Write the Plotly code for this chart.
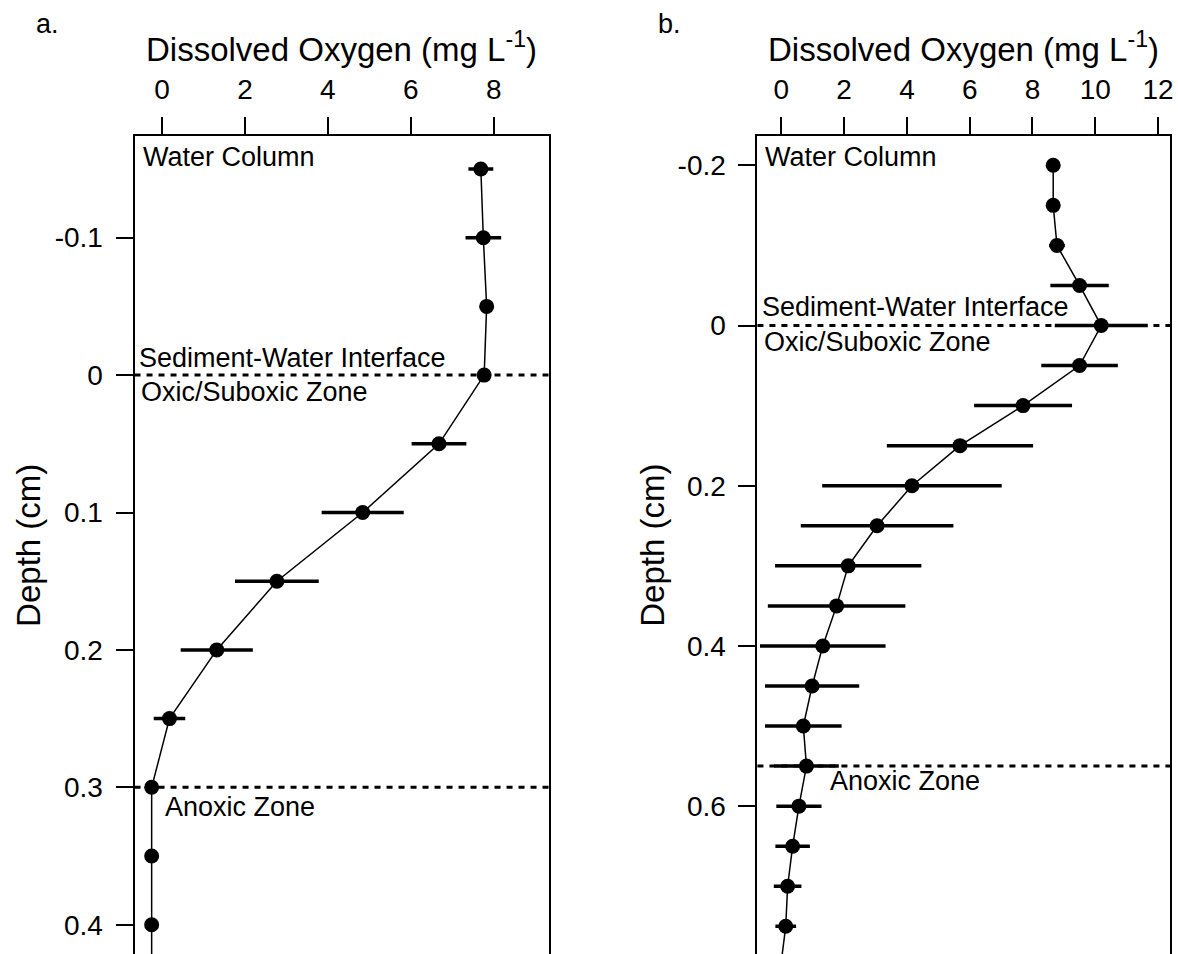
import plotly.graph_objects as go

# ---- data ----
depth_a = [-0.15, -0.10, -0.05, 0.00, 0.05, 0.10, 0.15, 0.20, 0.25, 0.30, 0.35, 0.40, 0.45]
do_a = [7.69, 7.75, 7.83, 7.77, 6.68, 4.84, 2.77, 1.32, 0.18, -0.25, -0.25, -0.25, -0.25]
err_a = [0.30, 0.43, 0.12, 0.08, 0.66, 0.99, 1.01, 0.87, 0.38, 0.05, 0.05, 0.05, 0.05]

depth_b = [-0.20, -0.15, -0.10, -0.05, 0.00, 0.05, 0.10, 0.15, 0.20, 0.25, 0.30, 0.35,
           0.40, 0.45, 0.50, 0.55, 0.60, 0.65, 0.70, 0.75, 0.80]
do_b = [8.66, 8.66, 8.78, 9.50, 10.19, 9.50, 7.70, 5.69, 4.16, 3.05, 2.13, 1.76,
        1.32, 0.98, 0.70, 0.80, 0.56, 0.36, 0.20, 0.14, -0.02]
err_b = [0.05, 0.05, 0.25, 0.93, 1.48, 1.22, 1.56, 2.33, 2.86, 2.43, 2.33, 2.19,
         2.00, 1.50, 1.22, 1.03, 0.72, 0.55, 0.44, 0.33, 0.30]

xticks_a = [0, 2, 4, 6, 8]
xticks_b = [0, 2, 4, 6, 8, 10, 12]
yticks_a = [-0.1, 0, 0.1, 0.2, 0.3, 0.4]
yticklabels_a = ["-0.1", "0", "0.1", "0.2", "0.3", "0.4"]
yticks_b = [-0.2, 0, 0.2, 0.4, 0.6]
yticklabels_b = ["-0.2", "0", "0.2", "0.4", "0.6"]

zones_a = [0.0, 0.3]
zones_b = [0.0, 0.55]

W, H = 1178, 954
FONT = "Liberation Sans, Arial, Helvetica, sans-serif"

def px_x(p):
    return p / W

def px_y(p):
    return 1 - p / H

fig = go.Figure()

for d, v, e, xa, ya in [(depth_a, do_a, err_a, "x", "y"), (depth_b, do_b, err_b, "x2", "y2")]:
    fig.add_trace(go.Scatter(
        x=v, y=d, xaxis=xa, yaxis=ya, mode="lines+markers",
        line=dict(color="black", width=1.5),
        marker=dict(color="black", size=15, symbol="circle"),
        error_x=dict(type="data", array=e, visible=True, color="black",
                     thickness=3.5, width=0),
        showlegend=False, hoverinfo="skip"))

top = 136
axis_common = dict(showgrid=False, zeroline=False, showline=True, linecolor="black",
                   linewidth=2, ticks="outside", ticklen=17, tickwidth=2,
                   tickcolor="black", tickfont=dict(family=FONT, size=28, color="black"),
                   ticklabelstandoff=7)

fig.update_layout(
    width=W, height=H, margin=dict(l=0, r=0, t=0, b=0),
    paper_bgcolor="white", plot_bgcolor="white",
    font=dict(family=FONT, color="black"),
    xaxis=dict(domain=[px_x(135), px_x(551)], range=[-0.663, 9.337], side="top",
               anchor="y", tickvals=xticks_a, mirror=False, **axis_common),
    yaxis=dict(domain=[0, px_y(top)], range=[0.4213, -0.174], anchor="x",
               tickvals=yticks_a, ticktext=yticklabels_a, mirror=True, **axis_common),
    xaxis2=dict(domain=[px_x(760), px_x(1174)], range=[-0.762, 12.381], side="top",
                anchor="y2", tickvals=xticks_b, mirror=False, **axis_common),
    yaxis2=dict(domain=[0, px_y(top)], range=[0.7846, -0.2366], anchor="x2",
                tickvals=yticks_b, ticktext=yticklabels_b, mirror=True, **axis_common),
)

# dotted zone lines
for z in zones_a:
    fig.add_shape(type="line", xref="x domain", yref="y", x0=0, x1=1, y0=z, y1=z,
                  line=dict(color="black", width=3, dash="6px,6px"))
for z in zones_b:
    fig.add_shape(type="line", xref="x2 domain", yref="y2", x0=0, x1=1, y0=z, y1=z,
                  line=dict(color="black", width=3, dash="6px,6px"))

def ann(text, x, y, size=27, xanchor="left"):
    fig.add_annotation(text=text, x=px_x(x), y=px_y(y), xref="paper", yref="paper",
                       xanchor=xanchor, yanchor="middle", showarrow=False,
                       font=dict(family=FONT, size=size, color="black"))

# panel labels
ann("a.", 48, 24, size=27, xanchor="center")
ann("b.", 672, 24, size=27, xanchor="center")

# axis titles
title_txt = "Dissolved Oxygen (mg L<sup>-1</sup>)"
ann(title_txt, 343, 47, size=33, xanchor="center")
ann(title_txt, 967, 47, size=33, xanchor="center")
for xc in [28, 654]:
    fig.add_annotation(text="Depth (cm)", x=px_x(xc), y=px_y(545), xref="paper", yref="paper",
                       xanchor="center", yanchor="middle", showarrow=False, textangle=-90,
                       font=dict(family=FONT, size=33, color="black"))

# in-plot labels
ann("Water Column", 141, 157)
ann("Sediment-Water Interface", 137.5, 358)
ann("Oxic/Suboxic Zone", 139, 392)
ann("Anoxic Zone", 164, 807)
ann("Water Column", 765.5, 157)
ann("Sediment-Water Interface", 762.5, 307)
ann("Oxic/Suboxic Zone", 764.5, 342)
ann("Anoxic Zone", 831, 781)

fig.write_html(
    "out.html",
    config={"displayModeBar": False},
    post_script="document.body.style.margin='0';document.body.style.overflow='hidden';",
)
